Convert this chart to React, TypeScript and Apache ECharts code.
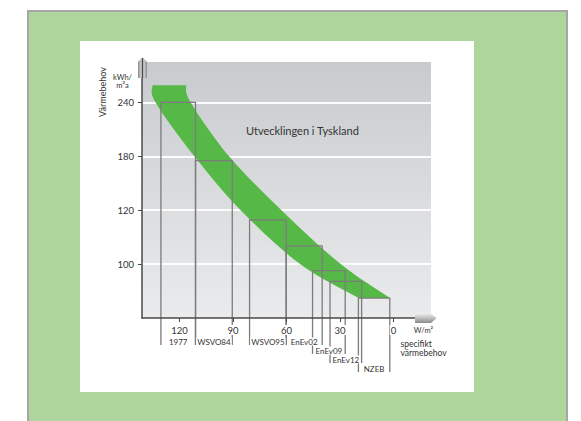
import React, { useEffect, useRef } from "react";
import * as echarts from "echarts";

// Y axis: the four labelled levels are drawn at equal steps (non-linear scale)
const yLevels = [1, 2, 3, 4];
const yLabels = ["100", "120", "180", "240"];
const yMin = 0;
const yMax = 4.75;

// X axis: specific heat demand, W/m² (reversed)
const xTicks = [0, 30, 60, 90, 120];
const xMin = -21;
const xMax = 141;

// Building standards: W/m² range (from -> to), level of the step, label row
const standards = ["1977", "WSVO84", "WSVO95", "EnEv02", "EnEv09", "EnEv12", "NZEB"];
const standardFrom = [130.4, 111.0, 80.7, 60.2, 45.4, 35.6, 19.7];
const standardTo = [111.0, 90.4, 60.2, 40.0, 27.1, 17.9, 2.1];
const standardLevel = [4.0, 2.92, 1.82, 1.34, 0.88, 0.68, 0.37];
const standardRow = [0, 0, 0, 0, 1, 2, 3];

// Green band: outer (upper-right) and inner (lower-left) edges, top to bottom
const bandOuterX = [116.3, 113.7, 92.2, 62.8, 29.6, 2.0];
const bandOuterY = [4.32, 4.0, 3.0, 2.0, 1.0, 0.37];
const bandInnerX = [135.1, 133.4, 111.6, 85.7, 52.4, 19.6];
const bandInnerY = [4.32, 4.0, 3.0, 2.0, 1.0, 0.37];

const FONT = "Lato, 'Noto Sans', sans-serif";

// smooth path (Catmull-Rom as cubic Bezier) through pixel points
function curveSegments(p: number[][]): string {
  let d = "";
  for (let i = 0; i < p.length - 1; i++) {
    const p0 = p[Math.max(0, i - 1)];
    const p1 = p[i];
    const p2 = p[i + 1];
    const p3 = p[Math.min(p.length - 1, i + 2)];
    const c1x = p1[0] + (p2[0] - p0[0]) / 6;
    const c1y = p1[1] + (p2[1] - p0[1]) / 6;
    const c2x = p2[0] - (p3[0] - p1[0]) / 6;
    const c2y = p2[1] - (p3[1] - p1[1]) / 6;
    d += ` C${c1x.toFixed(2)},${c1y.toFixed(2)} ${c2x.toFixed(2)},${c2y.toFixed(2)} ${p2[0].toFixed(2)},${p2[1].toFixed(2)}`;
  }
  return d;
}

export default function App() {
  const ref = useRef<HTMLDivElement>(null);

  useEffect(() => {
    document.body.style.margin = "0";
    const chart = echarts.init(ref.current as HTMLDivElement, undefined, { renderer: "svg" });

    const stdData = standards.map((_, i) => [standardFrom[i], standardTo[i], standardLevel[i], standardRow[i]]);

    chart.setOption({
      animation: false,
      backgroundColor: "#ffffff",
      grid: {
        left: 142,
        top: 62,
        width: 289,
        height: 256,
        show: true,
        borderWidth: 0,
        backgroundColor: new echarts.graphic.LinearGradient(0, 0, 0, 1, [
          { offset: 0, color: "#c8cbce" },
          { offset: 1, color: "#eaebec" },
        ]),
      },
      xAxis: {
        type: "value",
        inverse: true,
        min: xMin,
        max: xMax,
        z: 5,
        axisLine: { show: true, onZero: false, lineStyle: { color: "#4a4a4a", width: 1.5 } },
        axisTick: { show: true, length: 4, customValues: xTicks, lineStyle: { color: "#4a4a4a", width: 1 } },
        axisLabel: {
          customValues: xTicks,
          margin: 7,
          color: "#333",
          fontSize: 9.5,
          fontFamily: FONT,
          backgroundColor: "#ffffff",
          padding: [0, 1],
        },
        splitLine: { show: false },
      },
      yAxis: {
        type: "value",
        min: yMin,
        max: yMax,
        interval: 1,
        axisLine: { show: true, onZero: false, lineStyle: { color: "#4a4a4a", width: 1.5 } },
        axisTick: { show: true, length: 4, customValues: yLevels, lineStyle: { color: "#4a4a4a", width: 1 } },
        axisLabel: {
          customValues: yLevels,
          formatter: (v: number) => {
            const i = yLevels.indexOf(v);
            return i >= 0 ? yLabels[i] : "";
          },
          margin: 8,
          color: "#333",
          fontSize: 9.5,
          fontFamily: FONT,
        },
        splitLine: { show: true, lineStyle: { color: "rgba(255,255,255,0.9)", width: 2 } },
      },
      graphic: [
        {
          type: "rect",
          z: -10,
          shape: { x: 28, y: 11, width: 539, height: 420 },
          style: { fill: "#aed59c", stroke: "#a6a6a6", lineWidth: 2 },
        },
        {
          type: "rect",
          z: -9,
          shape: { x: 80, y: 41, width: 394, height: 351 },
          style: { fill: "#ffffff" },
        },
        {
          type: "polygon",
          z: 10,
          shape: { points: [[138, 78], [138, 62], [142.5, 57], [147, 62], [147, 78]] },
          style: {
            fill: new echarts.graphic.LinearGradient(0, 0, 1, 0, [
              { offset: 0, color: "#8a8a8a" },
              { offset: 0.35, color: "#d4d4d4" },
              { offset: 0.5, color: "#f0f0f0" },
              { offset: 0.65, color: "#d4d4d4" },
              { offset: 1, color: "#8a8a8a" },
            ]),
          },
        },
        {
          type: "line",
          z: 11,
          shape: { x1: 142.5, y1: 58, x2: 142.5, y2: 78 },
          style: { stroke: "#4a4a4a", lineWidth: 1.5 },
        },
        {
          type: "polygon",
          z: 10,
          shape: { points: [[415, 313.5], [431, 313.5], [436.5, 318.3], [431, 323], [415, 323]] },
          style: {
            fill: new echarts.graphic.LinearGradient(0, 0, 0, 1, [
              { offset: 0, color: "#eeeeee" },
              { offset: 0.5, color: "#bdbdbd" },
              { offset: 1, color: "#8a8a8a" },
            ]),
          },
        },
        {
          type: "text",
          z: 10,
          x: 102.5,
          y: 92,
          rotation: Math.PI / 2,
          style: { text: "Värmebehov", fill: "#333", font: `9px ${FONT}`, align: "center", verticalAlign: "middle" },
        },
        {
          type: "text",
          z: 10,
          x: 122.5,
          y: 77.5,
          style: { text: "kWh/", fill: "#333", font: `7.5px ${FONT}`, align: "center", verticalAlign: "middle" },
        },
        {
          type: "text",
          z: 10,
          x: 122.5,
          y: 85,
          style: { text: "m²a", fill: "#333", font: `7.5px ${FONT}`, align: "center", verticalAlign: "middle" },
        },
        {
          type: "text",
          z: 10,
          x: 423.5,
          y: 330.5,
          style: { text: "W/m²", fill: "#333", font: `7.5px ${FONT}`, align: "center", verticalAlign: "middle" },
        },
        {
          type: "text",
          z: 10,
          x: 400.5,
          y: 344,
          style: { text: "specifikt", fill: "#333", font: `8.5px ${FONT}`, align: "left", verticalAlign: "middle" },
        },
        {
          type: "text",
          z: 10,
          x: 400.5,
          y: 353,
          style: { text: "värmebehov", fill: "#333", font: `8.5px ${FONT}`, align: "left", verticalAlign: "middle" },
        },
        {
          type: "text",
          z: 10,
          x: 246,
          y: 130,
          style: {
            text: "Utvecklingen i Tyskland",
            fill: "#333",
            font: `11px ${FONT}`,
            align: "left",
            verticalAlign: "middle",
          },
        },
      ],
      series: [
        {
          type: "custom",
          name: "band",
          coordinateSystem: "cartesian2d",
          clip: false,
          z: 2,
          data: [[bandOuterX[0], bandOuterY[0]]],
          renderItem: (_params: any, api: any) => {
            const outer = bandOuterX.map((x, i) => api.coord([x, bandOuterY[i]]));
            const inner = bandInnerX.map((x, i) => api.coord([x, bandInnerY[i]])).reverse();
            let d = `M${outer[0][0].toFixed(2)},${outer[0][1].toFixed(2)}`;
            d += curveSegments(outer);
            d += ` L${inner[0][0].toFixed(2)},${inner[0][1].toFixed(2)}`;
            d += curveSegments(inner);
            d += " Z";
            return { type: "path", shape: { pathData: d }, style: { fill: "#56b947" } };
          },
        },
        {
          type: "custom",
          name: "standards",
          coordinateSystem: "cartesian2d",
          clip: false,
          z: 3,
          data: stdData,
          encode: { x: [0, 1], y: 2 },
          renderItem: (params: any, api: any) => {
            const i = params.dataIndex;
            const from = api.value(0);
            const to = api.value(1);
            const level = api.value(2);
            const row = api.value(3);
            const l = api.coord([from, level]);
            const r = api.coord([to, level]);
            const base = api.coord([0, 0])[1];
            const bottom = base + 27 + row * 9;
            const labelY = base + 23.5 + row * 9;
            return {
              type: "group",
              children: [
                {
                  type: "polyline",
                  z2: 1,
                  shape: { points: [[l[0], bottom], [l[0], l[1]], [r[0], r[1]], [r[0], bottom]] },
                  style: { stroke: "#7c7c7c", lineWidth: 1.3, fill: "none" },
                },
                {
                  type: "text",
                  z2: 10,
                  x: (l[0] + r[0]) / 2,
                  y: labelY,
                  style: {
                    text: standards[i],
                    fill: "#333",
                    font: `8px ${FONT}`,
                    align: "center",
                    verticalAlign: "middle",
                    backgroundColor: "#ffffff",
                    padding: [0, 1],
                  },
                },
              ],
            };
          },
        },
      ],
    });

    return () => {
      chart.dispose();
    };
  }, []);

  return (
    <div
      ref={ref}
      style={{ position: "fixed", left: 0, top: 0, width: 581, height: 421 }}
    />
  );
}
